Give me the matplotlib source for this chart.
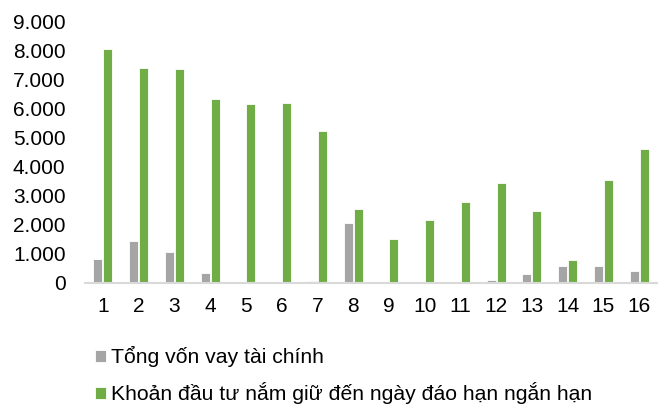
import numpy as np
import matplotlib.pyplot as plt
from matplotlib.ticker import FuncFormatter

plt.rcParams['font.family'] = ['Liberation Sans', 'DejaVu Sans']

# Categories and series values
categories = [str(i) for i in range(1, 17)]
loans = [830, 1450, 1070, 350, 30, 0, 60, 2040, 0, 0, 0, 80, 300, 590, 590, 390]
investments = [8040, 7400, 7340, 6320, 6140, 6180, 5210, 2550, 1490, 2150,
               2780, 3430, 2480, 770, 3530, 4590]
labels = ["Tổng vốn vay tài chính",
          "Khoản đầu tư nắm giữ đến ngày đáo hạn ngắn hạn"]

gray = "#a5a5a5"
green = "#70ad47"

fig = plt.figure(figsize=(6.61, 4.07), dpi=100)
ax = fig.add_axes([0.1286, 0.3054, 0.8654, 0.6427])

x = np.arange(1, len(categories) + 1)
w = 0.25
b1 = ax.bar(x - 0.14, loans, width=w, color=gray, edgecolor="white", linewidth=0.6, label=labels[0])
b2 = ax.bar(x + 0.14, investments, width=w, color=green, edgecolor="white", linewidth=0.6, label=labels[1])

ax.set_xlim(0.5, 16.5)
ax.set_ylim(0, 9000)
ax.set_yticks(np.arange(0, 9001, 1000))
ax.yaxis.set_major_formatter(FuncFormatter(lambda v, p: f"{int(v):,}".replace(",", ".")))
ax.set_xticks(x)
ax.set_xticklabels(categories)
ax.tick_params(axis="y", length=0, pad=14, labelsize=15)
ax.tick_params(axis="x", length=0, pad=10, labelsize=15)

for s in ["top", "right", "left"]:
    ax.spines[s].set_visible(False)
ax.spines["bottom"].set_color("#d9d9d9")
ax.spines["bottom"].set_linewidth(1.5)

fig.legend(handles=[b1, b2], labels=labels, loc="upper left",
           bbox_to_anchor=(0.1437, 0.15), frameon=False, fontsize=15.2,
           handlelength=0.52, handleheight=0.5, handletextpad=0.24,
           labelspacing=0.72, borderpad=0, borderaxespad=0)

fig.savefig("out.png", dpi=100)
